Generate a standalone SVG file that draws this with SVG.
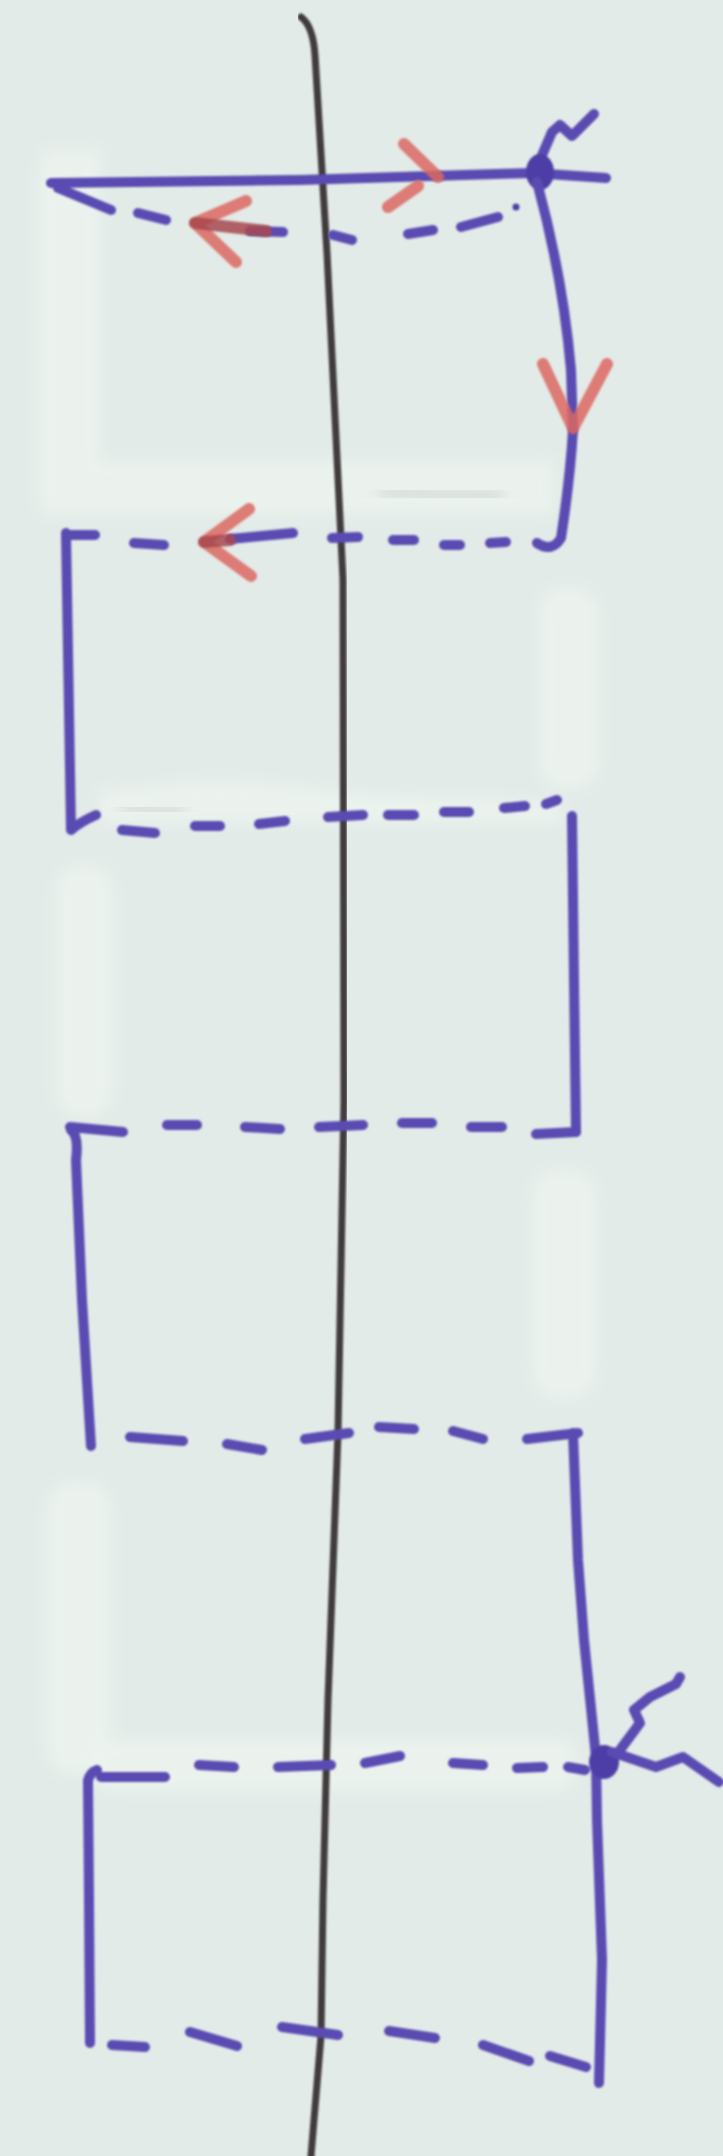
<svg xmlns="http://www.w3.org/2000/svg" width="723" height="2156" viewBox="0 0 723 2156">
<defs>
<filter id="soft" x="-30%" y="-30%" width="160%" height="160%"><feGaussianBlur stdDeviation="7"/></filter>
<filter id="ink" x="-5%" y="-5%" width="110%" height="110%"><feGaussianBlur stdDeviation="0.9"/></filter>
<style>
.bg{fill:#e3ebe8}
.wo{fill:#edf4ef;opacity:0.85;filter:url(#soft)}
.sm{stroke:#b9c2be;stroke-width:9;stroke-linecap:round;fill:none;opacity:0.6;filter:url(#soft)}
.s{fill:none;stroke:#5a4bb2;stroke-width:10;stroke-linecap:round;stroke-linejoin:round}
.d{fill:none;stroke:#5a4bb2;stroke-width:10;stroke-linecap:round}
.k{fill:#4d3ea6}
.ax{fill:none;stroke:#3f3b3c;stroke-width:7;stroke-linecap:round;stroke-linejoin:round}
.r{fill:none;stroke:#dc6762;stroke-width:12;stroke-linecap:round;stroke-linejoin:round;opacity:0.85}
</style>
</defs>
<rect class="bg" x="0" y="0" width="723" height="2156"/>
<g id="whiteout">
<path class="wo" d="M40 165 Q40 150 62 150 L100 150 L100 462 L553 462 L553 513 L40 513 Z"/>
<rect class="wo" x="540" y="588" width="58" height="200" rx="25"/>
<rect class="wo" x="57" y="866" width="55" height="250" rx="22"/>
<path class="wo" d="M100 792 Q230 772 360 795 L560 802 L560 822 L100 822 Z"/>
<rect class="wo" x="533" y="1170" width="62" height="228" rx="25"/>
<rect class="wo" x="48" y="1483" width="62" height="290" rx="22"/>
<rect class="wo" x="92" y="1740" width="484" height="50" rx="20"/>
</g>
<g id="smudges">
<line class="sm" x1="382" y1="492" x2="500" y2="496"/>
<line class="sm" x1="124" y1="808" x2="182" y2="811"/>
<line class="sm" x1="218" y1="1123" x2="238" y2="1123"/>
<line class="sm" x1="368" y1="1127" x2="384" y2="1127"/>
</g>
<g id="axis" filter="url(#ink)">
<path class="ax" d="M301 17 Q313 26 315 55 L327 253 L343 580 L344 1100 L338 1433 L328 1700 L323 1900 L321 2036 L311 2156"/>
</g>
<g id="connectors" filter="url(#ink)">
<!-- top solid line -->
<path class="s" d="M51 183 L300 180 L533 173 L606 178"/>
<!-- top knot tail -->
<path class="s" d="M540 160 L552 132 L560 125 L572 136 L594 114"/>
<ellipse class="k" cx="540" cy="172" rx="14" ry="18"/>
<circle class="k" cx="516" cy="207" r="3.5"/>
<!-- top dashes -->
<line class="d" x1="58" y1="188" x2="111" y2="210"/>
<line class="d" x1="138" y1="213" x2="166" y2="220"/>
<line class="d" x1="250" y1="231" x2="283" y2="232"/>
<line class="d" x1="333" y1="235" x2="352" y2="240"/>
<line class="d" x1="408" y1="234" x2="433" y2="230"/>
<line class="d" x1="461" y1="227" x2="498" y2="217"/>
<!-- right solid 1 -->
<path class="s" d="M537 182 C550 230 565 300 571 370 L573 430 C570 480 565 512 561 538 Q552 553 537 543"/>
<!-- dashed 2 -->
<line class="d" x1="69" y1="535" x2="95" y2="535"/>
<line class="d" x1="134" y1="543" x2="164" y2="545"/>
<line class="d" x1="230" y1="539" x2="293" y2="533"/>
<line class="d" x1="332" y1="538" x2="358" y2="537"/>
<line class="d" x1="393" y1="540" x2="414" y2="540"/>
<line class="d" x1="444" y1="545" x2="460" y2="545"/>
<line class="d" x1="490" y1="543" x2="506" y2="542"/>
<!-- left solid 2 -->
<path class="s" d="M66 533 L71 830 Q80 822 96 815"/>
<!-- dashed 3 -->
<line class="d" x1="122" y1="830" x2="155" y2="833"/>
<line class="d" x1="195" y1="826" x2="220" y2="826"/>
<line class="d" x1="259" y1="824" x2="285" y2="821"/>
<line class="d" x1="328" y1="817" x2="363" y2="815"/>
<line class="d" x1="388" y1="815" x2="414" y2="815"/>
<line class="d" x1="444" y1="812" x2="469" y2="812"/>
<line class="d" x1="504" y1="808" x2="525" y2="806"/>
<line class="d" x1="546" y1="804" x2="557" y2="800"/>
<!-- right solid 3 -->
<path class="s" d="M572 816 L574 980 L576 1132"/>
<!-- dashed 4 -->
<line class="d" x1="70" y1="1127" x2="123" y2="1132"/>
<line class="d" x1="167" y1="1125" x2="197" y2="1125"/>
<line class="d" x1="245" y1="1127" x2="280" y2="1129"/>
<line class="d" x1="319" y1="1127" x2="363" y2="1125"/>
<line class="d" x1="402" y1="1123" x2="432" y2="1123"/>
<line class="d" x1="471" y1="1127" x2="502" y2="1127"/>
<line class="d" x1="536" y1="1134" x2="576" y2="1132"/>
<!-- left solid 4 -->
<path class="s" d="M71 1130 Q79 1136 76 1160 L82 1300 L91 1446"/>
<!-- dashed 5 -->
<line class="d" x1="130" y1="1437" x2="183" y2="1441"/>
<line class="d" x1="227" y1="1444" x2="262" y2="1450"/>
<line class="d" x1="305" y1="1439" x2="349" y2="1433"/>
<line class="d" x1="379" y1="1427" x2="414" y2="1429"/>
<line class="d" x1="453" y1="1431" x2="483" y2="1439"/>
<line class="d" x1="527" y1="1439" x2="578" y2="1433"/>
<!-- right solid 5 -->
<path class="s" d="M573 1433 L578 1560 L584 1640 L596 1757 L597 1820 L602 1960 L599 2083"/>
<!-- bottom knot -->
<ellipse class="k" cx="604" cy="1762" rx="15" ry="17"/>
<path class="s" d="M620 1750 L640 1723 L634 1710 L650 1697 L676 1684 L680 1677"/>
<path class="s" d="M612 1752 L656 1767 L683 1757 L719 1782"/>
<!-- dashed 6 -->
<path class="s" d="M88 1781 Q90 1772 97 1770"/>
<line class="d" x1="101" y1="1777" x2="165" y2="1777"/>
<line class="d" x1="199" y1="1765" x2="234" y2="1767"/>
<line class="d" x1="278" y1="1767" x2="331" y2="1765"/>
<line class="d" x1="365" y1="1763" x2="400" y2="1756"/>
<line class="d" x1="453" y1="1763" x2="483" y2="1765"/>
<line class="d" x1="517" y1="1768" x2="543" y2="1767"/>
<line class="d" x1="568" y1="1767" x2="585" y2="1770"/>
<!-- left solid 6 -->
<path class="s" d="M88 1781 L89 1900 L90 2043"/>
<!-- dashed 7 -->
<line class="d" x1="112" y1="2045" x2="145" y2="2047"/>
<line class="d" x1="190" y1="2032" x2="237" y2="2046"/>
<line class="d" x1="282" y1="2027" x2="338" y2="2035"/>
<line class="d" x1="389" y1="2031" x2="435" y2="2038"/>
<line class="d" x1="483" y1="2045" x2="529" y2="2061"/>
<line class="d" x1="550" y1="2056" x2="586" y2="2067"/>
</g>
<g id="arrows" filter="url(#ink)">
<path class="r" d="M404 144 L438 177"/>
<path class="r" d="M388 207 L418 186"/>
<path class="r" d="M246 201 L195 223 L236 262"/>
<path class="r" d="M195 223 L266 231" style="stroke:#a8484f"/>
<path class="r" d="M543 364 L573 428 L607 364"/>
<path class="r" d="M249 509 L204 542 L251 576"/>
<path class="r" d="M204 542 L230 540" style="stroke:#a8484f"/>
</g>
</svg>
